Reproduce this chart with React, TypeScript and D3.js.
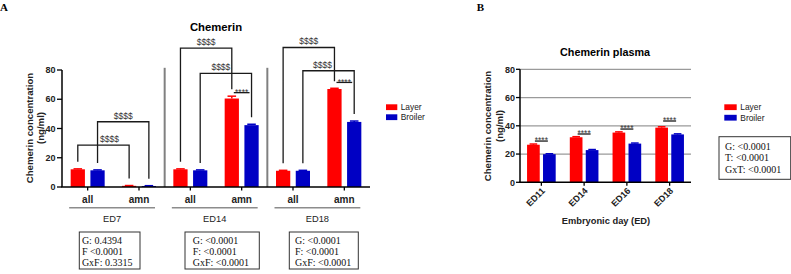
import React from "react";
import * as d3 from "d3";

// ---------- Data ----------
const categoriesA = ["all", "amn", "all", "amn", "all", "amn"];
const groupsA = ["ED7", "ED14", "ED18"];
const seriesNames = ["Layer", "Broiler"];
const layerA = [12.1, 0.8, 12.1, 60.5, 11.1, 67.0];
const layerErrA = [0.3, 0.2, 0.3, 1.6, 0.3, 0.5];
const broilerA = [11.4, 0.7, 11.4, 42.3, 11.1, 44.5];
const broilerErrA = [0.3, 0.2, 0.3, 0.6, 0.3, 0.6];
const yTicks = [0, 20, 40, 60, 80];

const daysB = ["ED11", "ED14", "ED16", "ED18"];
const layerB = [26.6, 31.9, 35.2, 38.7];
const layerErrB = [0.5, 0.4, 0.5, 0.6];
const broilerB = [19.9, 22.8, 27.4, 33.9];
const broilerErrB = [0.3, 0.4, 0.4, 0.4];

const statsA = [
  ["G: 0.4394", "F <0.0001", "GxF: 0.3315"],
  ["G: <0.0001", "F: <0.0001", "GxF: <0.0001"],
  ["G: <0.0001", "F: <0.0001", "GxF: <0.0001"],
];
const statsB = ["G: <0.0001", "T: <0.0001", "GxT: <0.0001"];

// significance annotations (category indices, series index, height in data units)
const bracketsA = [
  { from: 0, to: 1, series: 0, level: 28.7, label: "$$$$", dx: 6 },
  { from: 0, to: 1, series: 1, level: 44.6, label: "$$$$", dx: 0 },
  { from: 2, to: 3, series: 0, level: 95, label: "$$$$", dx: 0 },
  { from: 2, to: 3, series: 1, level: 77.7, label: "$$$$", dx: -5 },
  { from: 4, to: 5, series: 0, level: 95.4, label: "$$$$", dx: 0 },
  { from: 4, to: 5, series: 1, level: 79.5, label: "$$$$", dx: -6 },
];
const starsA = [
  { cat: 3, level: 64.5 },
  { cat: 5, level: 71.5 },
];
const starsB = [
  { cat: 0, level: 29.2 },
  { cat: 1, level: 34.2 },
  { cat: 2, level: 37.7 },
  { cat: 3, level: 43.4 },
];

// ---------- Styles ----------
const RED = "#ff0000";
const BLUE = "#0000c4";
const colors = [RED, BLUE];
const SANS = "'Liberation Sans', Arial, Helvetica, sans-serif";
const SERIF = "'Liberation Serif', 'Times New Roman', serif";

function Bars({ x0, x1, y, values, errs }) {
  return (
    <g>
      {values.map((vals, s) =>
        vals.map((v, i) => {
          const bx = x0(i) + x1(s);
          const bw = x1.bandwidth();
          const top = y(v + errs[s][i]);
          return (
            <g key={`${s}-${i}`}>
              <rect x={bx} y={y(v)} width={bw} height={y(0) - y(v)} fill={colors[s]} />
              <line x1={bx + bw / 2} x2={bx + bw / 2} y1={y(v)} y2={top} stroke={colors[s]} strokeWidth={1.5} />
              <line x1={bx + bw * 0.2} x2={bx + bw * 0.8} y1={top} y2={top} stroke={colors[s]} strokeWidth={1.5} />
            </g>
          );
        })
      )}
    </g>
  );
}

export default function App() {
  // ----- Panel A scales -----
  const xA = d3
    .scaleBand<number>()
    .domain(d3.range(categoriesA.length))
    .range([62, 370])
    .paddingInner(0.3377)
    .paddingOuter(0.3377 / 2);
  const xA1 = d3.scaleBand<number>().domain([0, 1]).range([0, xA.bandwidth()]).paddingInner(0.278);
  const yA = d3.scaleLinear().domain([0, 80]).range([187, 70]);
  const stepA = xA.step();
  const centerA = (i) => xA(i) + xA.bandwidth() / 2;
  const barCenterA = (i, s) => xA(i) + xA1(s) + xA1.bandwidth() / 2;
  const valsA = [layerA, broilerA];
  const errsA = [layerErrA, broilerErrA];

  // ----- Panel B scales -----
  const xB = d3
    .scaleBand<number>()
    .domain(d3.range(daysB.length))
    .range([520, 691])
    .paddingInner(0.33)
    .paddingOuter(0.165);
  const xB1 = d3.scaleBand<number>().domain([0, 1]).range([0, xB.bandwidth()]).paddingInner(0.206);
  const yB = d3.scaleLinear().domain([0, 80]).range([182.3, 69.3]);
  const centerB = (i) => xB(i) + xB.bandwidth() / 2;
  const barCenterB = (i, s) => xB(i) + xB1(s) + xB1.bandwidth() / 2;
  const valsB = [layerB, broilerB];
  const errsB = [layerErrB, broilerErrB];

  const boxOffsetsA = [
    { x: 79.3, w: 60.7, tx: 2.6 },
    { x: 185, w: 74.3, tx: 7.7 },
    { x: 289.3, w: 69, tx: 5.7 },
  ];

  return (
    <svg
      width={791}
      height={274}
      style={{ position: "absolute", left: 0, top: 0, background: "#fff" }}
      fontFamily={SANS}
    >
      <rect width={791} height={274} fill="#fff" />
      {/* Panel labels */}
      <text x={0} y={10.5} fontFamily={SERIF} fontWeight="bold" fontSize={11}>A</text>
      <text x={476.7} y={10.5} fontFamily={SERIF} fontWeight="bold" fontSize={11}>B</text>

      {/* ================= PANEL A ================= */}
      <text x={216} y={31} textAnchor="middle" fontWeight="bold" fontSize={11.3}>Chemerin</text>

      {/* y label */}
      <g transform={`translate(29.5,128) rotate(-90)`}>
        <text textAnchor="middle" fontWeight="bold" fontSize={9.6} fill="#222" dy={3.3}>Chemerin concentration</text>
        <text textAnchor="middle" fontWeight="bold" fontSize={9.6} fill="#222" dy={14.3}>(ng/ml)</text>
      </g>

      {/* separators */}
      {[1.5, 3.5].map((k) => {
        const sx = 62 + stepA * (k + 0.5);
        return <line key={k} x1={sx} x2={sx} y1={yA(81.5)} y2={yA(0)} stroke="#808080" strokeWidth={2} />;
      })}

      <Bars x0={xA} x1={xA1} y={yA} values={valsA} errs={errsA} />

      {/* axes */}
      <line x1={62} x2={62} y1={yA(80)} y2={yA(0)} stroke="#000" strokeWidth={1.5} />
      <line x1={61.3} x2={370} y1={yA(0)} y2={yA(0)} stroke="#000" strokeWidth={1.5} />
      {yTicks.map((t) => (
        <g key={t}>
          <line x1={57} x2={62} y1={yA(t)} y2={yA(t)} stroke="#000" strokeWidth={1.3} />
          <text x={55.5} y={yA(t) + 3.2} textAnchor="end" fontWeight="bold" fontSize={9} fill="#222">{t}</text>
        </g>
      ))}
      {categoriesA.map((c, i) => (
        <g key={i}>
          <line x1={centerA(i)} x2={centerA(i)} y1={yA(0)} y2={yA(0) + 3.5} stroke="#000" strokeWidth={1.3} />
          <text x={centerA(i)} y={202.6} textAnchor="middle" fontWeight="bold" fontSize={10} fill="#222">{c}</text>
        </g>
      ))}
      {groupsA.map((g, gi) => {
        const a = barCenterA(gi * 2, 0) - xA1.bandwidth() / 2 - 1.5;
        const b = barCenterA(gi * 2 + 1, 1) + xA1.bandwidth() / 2 - 1;
        return (
          <g key={g}>
            <line x1={a} x2={b} y1={207.7} y2={207.7} stroke="#8c8c8c" strokeWidth={1.5} />
            <text x={(a + b) / 2} y={221.6} textAnchor="middle" fontSize={9.3} fill="#222">{g}</text>
          </g>
        );
      })}

      {/* brackets */}
      {bracketsA.map((br, k) => {
        const xa = barCenterA(br.from, br.series);
        const xb = barCenterA(br.to, br.series);
        const ly = yA(br.level);
        const ya = yA(valsA[br.series][br.from] + errsA[br.series][br.from]) - 7;
        const yb = yA(valsA[br.series][br.to] + errsA[br.series][br.to]) - 7;
        return (
          <g key={k}>
            <path d={`M${xa},${ya}V${ly}H${xb}V${yb}`} fill="none" stroke="#1a1a1a" strokeWidth={1.3} />
            <text x={(xa + xb) / 2 + br.dx} y={ly - 3} textAnchor="middle" fontSize={8.5} fill="#333">{br.label}</text>
          </g>
        );
      })}
      {starsA.map((st, k) => {
        const xa = barCenterA(st.cat, 0) + 2;
        const xb = barCenterA(st.cat, 1) - 2;
        const ly = yA(st.level);
        return (
          <g key={k}>
            <line x1={xa} x2={xb} y1={ly} y2={ly} stroke="#1a1a1a" strokeWidth={1.3} />
            <text x={(xa + xb) / 2} y={ly + 2.2} textAnchor="middle" fontSize={8.5} fill="#333">****</text>
          </g>
        );
      })}

      {/* stats boxes */}
      {statsA.map((lines, gi) => {
        const bo = boxOffsetsA[gi];
        return (
          <g key={gi}>
            <rect x={bo.x} y={232} width={bo.w} height={37} fill="#fff" stroke="#333" strokeWidth={1} />
            {lines.map((l, li) => (
              <text key={li} x={bo.x + bo.tx} y={244.2 + li * 10.8} fontFamily={SERIF} fontSize={10} fill="#111">{l}</text>
            ))}
          </g>
        );
      })}

      {/* legend A */}
      {seriesNames.map((s, i) => (
        <g key={s}>
          <rect x={386} y={104.3 + i * 10} width={11.3} height={5.8} fill={colors[i]} />
          <text x={400.7} y={110 + i * 10} fontSize={8.4} fill="#222">{s}</text>
        </g>
      ))}

      {/* ================= PANEL B ================= */}
      <text x={605} y={56.3} textAnchor="middle" fontWeight="bold" fontSize={10.8}>Chemerin plasma</text>

      <g transform={`translate(487.5,126) rotate(-90)`}>
        <text textAnchor="middle" fontWeight="bold" fontSize={9.6} fill="#222" dy={3.3}>Chemerin concentration</text>
        <text textAnchor="middle" fontWeight="bold" fontSize={9.6} fill="#222" dy={15}>(ng/ml)</text>
      </g>

      {/* grid */}
      {yTicks.filter((t) => t > 0).map((t) => (
        <line key={t} x1={520} x2={691} y1={yB(t)} y2={yB(t)} stroke="#9a9a9a" strokeWidth={1.2} />
      ))}

      <Bars x0={xB} x1={xB1} y={yB} values={valsB} errs={errsB} />

      <line x1={520} x2={520} y1={yB(80)} y2={yB(0)} stroke="#000" strokeWidth={1.5} />
      <line x1={519.3} x2={691} y1={yB(0)} y2={yB(0)} stroke="#000" strokeWidth={1.5} />
      {yTicks.map((t) => (
        <g key={t}>
          <line x1={516} x2={520} y1={yB(t)} y2={yB(t)} stroke="#000" strokeWidth={1.3} />
          <text x={515} y={yB(t) + 3.2} textAnchor="end" fontWeight="bold" fontSize={9} fill="#222">{t}</text>
        </g>
      ))}
      {daysB.map((d, i) => (
        <g key={d}>
          <line x1={centerB(i)} x2={centerB(i)} y1={yB(0)} y2={yB(0) + 3.5} stroke="#000" strokeWidth={1.3} />
          <text
            transform={`translate(${centerB(i) + 2},${yB(0) + 7}) rotate(-45)`}
            textAnchor="end"
            fontWeight="bold"
            fontSize={9}
            fill="#222"
            dy={3}
          >
            {d}
          </text>
        </g>
      ))}
      <text x={606} y={223.5} textAnchor="middle" fontWeight="bold" fontSize={9.3} fill="#222">Embryonic day (ED)</text>

      {starsB.map((st, k) => {
        const xa = barCenterB(st.cat, 0) + 1.5;
        const xb = barCenterB(st.cat, 1) - 1.5;
        const ly = yB(st.level);
        return (
          <g key={k}>
            <line x1={xa} x2={xb} y1={ly} y2={ly} stroke="#1a1a1a" strokeWidth={1.3} />
            <text x={(xa + xb) / 2} y={ly + 1.8} textAnchor="middle" fontSize={8.5} fill="#333">****</text>
          </g>
        );
      })}

      {/* legend B */}
      {seriesNames.map((s, i) => (
        <g key={s}>
          <rect x={724.3} y={104.3 + i * 10.5} width={12.4} height={5.8} fill={colors[i]} />
          <text x={740.3} y={110.3 + i * 10.5} fontSize={8.4} fill="#222">{s}</text>
        </g>
      ))}

      <rect x={719} y={136.7} width={71.7} height={42.6} fill="#fff" stroke="#333" strokeWidth={1} />
      {statsB.map((l, li) => (
        <text key={li} x={725} y={149.5 + li * 11.9} fontFamily={SERIF} fontSize={10} fill="#111">{l}</text>
      ))}
    </svg>
  );
}
